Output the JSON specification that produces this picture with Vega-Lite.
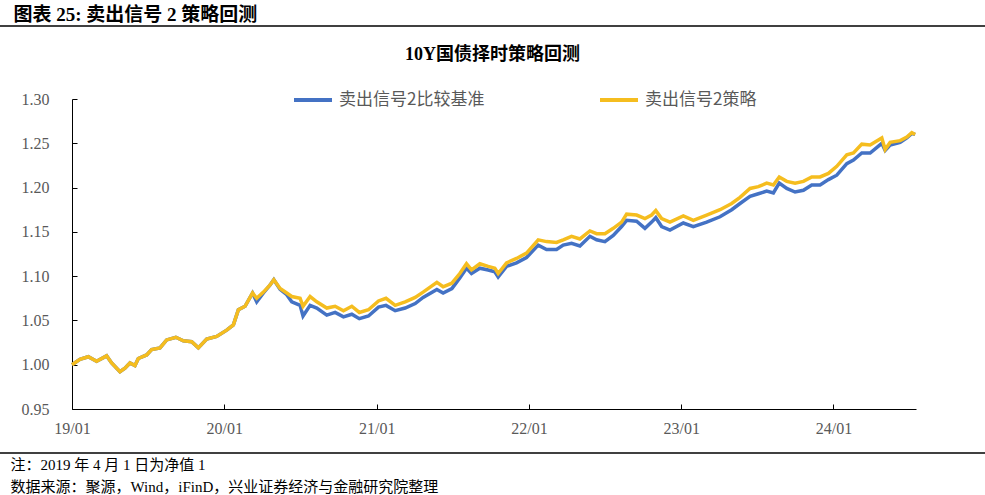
{
  "$schema": "https://vega.github.io/schema/vega-lite/v6.json",
  "width": 844,
  "height": 310,
  "autosize": {"type": "none"},
  "padding": {"left": 72, "top": 99, "right": 69, "bottom": 86},
  "background": "white",
  "config": {"view": {"stroke": null}, "font": "Liberation Serif, Noto Sans CJK SC"},
  "data": {"values": [
    {"date": "2019-01-01", "卖出信号2比较基准": 1.000, "卖出信号2策略": 1.000},
    {"date": "2019-01-20", "卖出信号2比较基准": 1.006, "卖出信号2策略": 1.006},
    {"date": "2019-02-09", "卖出信号2比较基准": 1.009, "卖出信号2策略": 1.009},
    {"date": "2019-03-01", "卖出信号2比较基准": 1.004, "卖出信号2策略": 1.004},
    {"date": "2019-03-25", "卖出信号2比较基准": 1.010, "卖出信号2策略": 1.010},
    {"date": "2019-04-06", "卖出信号2比较基准": 1.002, "卖出信号2策略": 1.002},
    {"date": "2019-04-26", "卖出信号2比较基准": 0.992, "卖出信号2策略": 0.992},
    {"date": "2019-05-08", "卖出信号2比较基准": 0.996, "卖出信号2策略": 0.996},
    {"date": "2019-05-20", "卖出信号2比较基准": 1.002, "卖出信号2策略": 1.002},
    {"date": "2019-06-01", "卖出信号2比较基准": 0.999, "卖出信号2策略": 0.999},
    {"date": "2019-06-09", "卖出信号2比较基准": 1.007, "卖出信号2策略": 1.007},
    {"date": "2019-06-29", "卖出信号2比较基准": 1.011, "卖出信号2策略": 1.011},
    {"date": "2019-07-11", "卖出信号2比较基准": 1.017, "卖出信号2策略": 1.017},
    {"date": "2019-07-31", "卖出信号2比较基准": 1.019, "卖出信号2策略": 1.019},
    {"date": "2019-08-16", "卖出信号2比较基准": 1.028, "卖出信号2策略": 1.028},
    {"date": "2019-09-07", "卖出信号2比较基准": 1.031, "卖出信号2策略": 1.031},
    {"date": "2019-09-25", "卖出信号2比较基准": 1.027, "卖出信号2策略": 1.027},
    {"date": "2019-10-15", "卖出信号2比较基准": 1.026, "卖出信号2策略": 1.026},
    {"date": "2019-10-31", "卖出信号2比较基准": 1.019, "卖出信号2策略": 1.019},
    {"date": "2019-11-20", "卖出信号2比较基准": 1.029, "卖出信号2策略": 1.029},
    {"date": "2019-12-14", "卖出信号2比较基准": 1.032, "卖出信号2策略": 1.032},
    {"date": "2020-01-07", "卖出信号2比较基准": 1.039, "卖出信号2策略": 1.039},
    {"date": "2020-01-23", "卖出信号2比较基准": 1.045, "卖出信号2策略": 1.045},
    {"date": "2020-02-04", "卖出信号2比较基准": 1.062, "卖出信号2策略": 1.062},
    {"date": "2020-02-20", "卖出信号2比较基准": 1.066, "卖出信号2策略": 1.066},
    {"date": "2020-03-09", "卖出信号2比较基准": 1.081, "卖出信号2策略": 1.081},
    {"date": "2020-03-19", "卖出信号2比较基准": 1.071, "卖出信号2策略": 1.075},
    {"date": "2020-04-04", "卖出信号2比较基准": 1.081, "卖出信号2策略": 1.082},
    {"date": "2020-04-20", "卖出信号2比较基准": 1.090, "卖出信号2策略": 1.090},
    {"date": "2020-04-29", "卖出信号2比较基准": 1.096, "卖出信号2策略": 1.096},
    {"date": "2020-05-14", "卖出信号2比较基准": 1.085, "卖出信号2策略": 1.086},
    {"date": "2020-05-30", "卖出信号2比较基准": 1.079, "卖出信号2策略": 1.081},
    {"date": "2020-06-11", "卖出信号2比较基准": 1.071, "卖出信号2策略": 1.077},
    {"date": "2020-07-01", "卖出信号2比较基准": 1.067, "卖出信号2策略": 1.075},
    {"date": "2020-07-08", "卖出信号2比较基准": 1.055, "卖出信号2策略": 1.066},
    {"date": "2020-07-25", "卖出信号2比较基准": 1.067, "卖出信号2策略": 1.077},
    {"date": "2020-08-10", "卖出信号2比较基准": 1.064, "卖出信号2策略": 1.071},
    {"date": "2020-09-03", "卖出信号2比较基准": 1.056, "卖出信号2策略": 1.064},
    {"date": "2020-09-23", "卖出信号2比较基准": 1.059, "卖出信号2策略": 1.066},
    {"date": "2020-10-13", "卖出信号2比较基准": 1.054, "卖出信号2策略": 1.061},
    {"date": "2020-11-02", "卖出信号2比较基准": 1.057, "卖出信号2策略": 1.066},
    {"date": "2020-11-20", "卖出信号2比较基准": 1.052, "卖出信号2策略": 1.059},
    {"date": "2020-12-12", "卖出信号2比较基准": 1.055, "卖出信号2策略": 1.062},
    {"date": "2021-01-05", "卖出信号2比较基准": 1.065, "卖出信号2策略": 1.072},
    {"date": "2021-01-23", "卖出信号2比较基准": 1.067, "卖出信号2策略": 1.075},
    {"date": "2021-02-14", "卖出信号2比较基准": 1.061, "卖出信号2策略": 1.067},
    {"date": "2021-03-10", "卖出信号2比较基准": 1.064, "卖出信号2策略": 1.071},
    {"date": "2021-04-03", "卖出信号2比较基准": 1.069, "卖出信号2策略": 1.076},
    {"date": "2021-04-22", "卖出信号2比较基准": 1.076, "卖出信号2策略": 1.082},
    {"date": "2021-05-25", "卖出信号2比较基准": 1.085, "卖出信号2策略": 1.093},
    {"date": "2021-06-09", "卖出信号2比较基准": 1.081, "卖出信号2策略": 1.088},
    {"date": "2021-06-30", "卖出信号2比较基准": 1.086, "卖出信号2策略": 1.092},
    {"date": "2021-07-19", "卖出信号2比较基准": 1.098, "卖出信号2策略": 1.103},
    {"date": "2021-08-04", "卖出信号2比较基准": 1.109, "卖出信号2策略": 1.114},
    {"date": "2021-08-16", "卖出信号2比较基准": 1.103, "卖出信号2策略": 1.107},
    {"date": "2021-09-05", "卖出信号2比较基准": 1.109, "卖出信号2策略": 1.114},
    {"date": "2021-09-25", "卖出信号2比较基准": 1.107, "卖出信号2策略": 1.111},
    {"date": "2021-10-11", "卖出信号2比较基准": 1.105, "卖出信号2策略": 1.109},
    {"date": "2021-10-19", "卖出信号2比较基准": 1.099, "卖出信号2策略": 1.103},
    {"date": "2021-11-08", "卖出信号2比较基准": 1.111, "卖出信号2策略": 1.115},
    {"date": "2021-12-02", "卖出信号2比较基准": 1.115, "卖出信号2策略": 1.120},
    {"date": "2021-12-26", "卖出信号2比较基准": 1.121, "卖出信号2策略": 1.126},
    {"date": "2022-01-23", "卖出信号2比较基准": 1.135, "卖出信号2策略": 1.141},
    {"date": "2022-02-12", "卖出信号2比较基准": 1.130, "卖出信号2策略": 1.139},
    {"date": "2022-03-08", "卖出信号2比较基准": 1.130, "卖出信号2策略": 1.138},
    {"date": "2022-03-24", "卖出信号2比较基准": 1.135, "卖出信号2策略": 1.141},
    {"date": "2022-04-13", "卖出信号2比较基准": 1.137, "卖出信号2策略": 1.145},
    {"date": "2022-05-03", "卖出信号2比较基准": 1.134, "卖出信号2策略": 1.142},
    {"date": "2022-05-27", "卖出信号2比较基准": 1.145, "卖出信号2策略": 1.151},
    {"date": "2022-06-12", "卖出信号2比较基准": 1.141, "卖出信号2策略": 1.148},
    {"date": "2022-07-02", "卖出信号2比较基准": 1.139, "卖出信号2策略": 1.148},
    {"date": "2022-07-22", "卖出信号2比较基准": 1.146, "卖出信号2策略": 1.154},
    {"date": "2022-08-11", "卖出信号2比较基准": 1.156, "卖出信号2策略": 1.161},
    {"date": "2022-08-23", "卖出信号2比较基准": 1.163, "卖出信号2策略": 1.170},
    {"date": "2022-09-16", "卖出信号2比较基准": 1.162, "卖出信号2策略": 1.169},
    {"date": "2022-10-06", "卖出信号2比较基准": 1.154, "卖出信号2策略": 1.165},
    {"date": "2022-10-22", "卖出信号2比较基准": 1.161, "卖出信号2策略": 1.169},
    {"date": "2022-11-01", "卖出信号2比较基准": 1.166, "卖出信号2策略": 1.174},
    {"date": "2022-11-15", "卖出信号2比较基准": 1.156, "卖出信号2策略": 1.165},
    {"date": "2022-12-05", "卖出信号2比较基准": 1.152, "卖出信号2策略": 1.161},
    {"date": "2023-01-06", "卖出信号2比较基准": 1.160, "卖出信号2策略": 1.168},
    {"date": "2023-01-30", "卖出信号2比较基准": 1.156, "卖出信号2策略": 1.163},
    {"date": "2023-03-03", "卖出信号2比较基准": 1.161, "卖出信号2策略": 1.169},
    {"date": "2023-04-04", "卖出信号2比较基准": 1.167, "卖出信号2策略": 1.175},
    {"date": "2023-05-02", "卖出信号2比较基准": 1.175, "卖出信号2策略": 1.182},
    {"date": "2023-05-22", "卖出信号2比较基准": 1.182, "卖出信号2策略": 1.189},
    {"date": "2023-06-15", "卖出信号2比较基准": 1.190, "卖出信号2策略": 1.199},
    {"date": "2023-07-05", "卖出信号2比较基准": 1.193, "卖出信号2策略": 1.201},
    {"date": "2023-07-25", "卖出信号2比较基准": 1.196, "卖出信号2策略": 1.205},
    {"date": "2023-08-10", "卖出信号2比较基准": 1.194, "卖出信号2策略": 1.203},
    {"date": "2023-08-24", "卖出信号2比较基准": 1.205, "卖出信号2策略": 1.212},
    {"date": "2023-09-11", "卖出信号2比较基准": 1.199, "卖出信号2策略": 1.207},
    {"date": "2023-10-01", "卖出信号2比较基准": 1.195, "卖出信号2策略": 1.205},
    {"date": "2023-10-21", "卖出信号2比较基准": 1.197, "卖出信号2策略": 1.207},
    {"date": "2023-11-10", "卖出信号2比较基准": 1.203, "卖出信号2策略": 1.212},
    {"date": "2023-11-30", "卖出信号2比较基准": 1.203, "卖出信号2策略": 1.212},
    {"date": "2023-12-20", "卖出信号2比较基准": 1.209, "卖出信号2策略": 1.216},
    {"date": "2024-01-09", "卖出信号2比较基准": 1.214, "卖出信号2策略": 1.224},
    {"date": "2024-02-02", "卖出信号2比较基准": 1.227, "卖出信号2策略": 1.237},
    {"date": "2024-02-18", "卖出信号2比较基准": 1.231, "卖出信号2策略": 1.239},
    {"date": "2024-03-09", "卖出信号2比较基准": 1.239, "卖出信号2策略": 1.249},
    {"date": "2024-03-29", "卖出信号2比较基准": 1.239, "卖出信号2策略": 1.248},
    {"date": "2024-04-26", "卖出信号2比较基准": 1.250, "卖出信号2策略": 1.256},
    {"date": "2024-05-04", "卖出信号2比较基准": 1.242, "卖出信号2策略": 1.243},
    {"date": "2024-05-16", "卖出信号2比较基准": 1.248, "卖出信号2策略": 1.251},
    {"date": "2024-06-09", "卖出信号2比较基准": 1.251, "卖出信号2策略": 1.253},
    {"date": "2024-06-25", "卖出信号2比较基准": 1.256, "卖出信号2策略": 1.257},
    {"date": "2024-07-07", "卖出信号2比较基准": 1.261, "卖出信号2策略": 1.262},
    {"date": "2024-07-15", "卖出信号2比较基准": 1.260, "卖出信号2策略": 1.260}
  ]},
  "layer": [
    {
      "transform": [{"fold": ["卖出信号2比较基准", "卖出信号2策略"], "as": ["series", "value"]}],
      "mark": {"type": "line", "strokeWidth": 3.5},
      "encoding": {
        "x": {
          "field": "date", "type": "temporal",
          "scale": {"type": "utc", "domain": [{"year": 2019, "month": 1, "date": 1, "utc": true}, {"year": 2024, "month": 7, "date": 17, "utc": true}]},
          "axis": {
            "values": [
              {"year": 2019, "month": 1, "date": 1, "utc": true},
              {"year": 2020, "month": 1, "date": 1, "utc": true},
              {"year": 2021, "month": 1, "date": 1, "utc": true},
              {"year": 2022, "month": 1, "date": 1, "utc": true},
              {"year": 2023, "month": 1, "date": 1, "utc": true},
              {"year": 2024, "month": 1, "date": 1, "utc": true}
            ],
            "format": "%y/%m",
            "grid": false,
            "domainColor": "black", "domainWidth": 1,
            "tickColor": "black", "tickSize": -5,
            "labelPadding": 16,
            "labelFont": "Liberation Serif", "labelFontSize": 16, "labelColor": "#595959",
            "labelFlush": false, "labelOverlap": false,
            "title": ["注：2019 年 4 月 1 日为净值 1", "数据来源：聚源，Wind，iFinD，兴业证券经济与金融研究院整理"],
            "titleX": -62, "titleY": 60,
            "titleAlign": "left", "titleAnchor": "start", "titleBaseline": "alphabetic",
            "titleFont": "Liberation Serif, Noto Sans CJK SC", "titleFontSize": 15,
            "titleFontWeight": "normal", "titleColor": "black", "titleLineHeight": 22
          }
        },
        "y": {
          "field": "value", "type": "quantitative",
          "scale": {"domain": [0.95, 1.30], "nice": false, "zero": false},
          "axis": {
            "values": [0.95, 1.0, 1.05, 1.1, 1.15, 1.2, 1.25, 1.3],
            "format": ".2f",
            "grid": false,
            "domainColor": "black", "domainWidth": 1,
            "tickColor": "black", "tickSize": -5,
            "labelPadding": 28,
            "labelFont": "Liberation Serif", "labelFontSize": 16, "labelColor": "#595959",
            "labelFlush": false,
            "title": "图表 25:  卖出信号 2 策略回测",
            "titleAngle": 0, "titleX": -59, "titleY": -79,
            "titleAlign": "left", "titleBaseline": "alphabetic",
            "titleFont": "Liberation Serif, Noto Sans CJK SC", "titleFontSize": 19,
            "titleFontWeight": "bold", "titleColor": "black"
          }
        },
        "color": {
          "field": "series", "type": "nominal",
          "scale": {"domain": ["卖出信号2比较基准", "卖出信号2策略"], "range": ["#4472C4", "#F5BD1F"]},
          "legend": {
            "orient": "none", "legendX": 220, "legendY": -20,
            "direction": "horizontal", "title": null, "padding": 0,
            "symbolType": "stroke", "symbolStrokeWidth": 4, "symbolSize": 1444,
            "labelFont": "Noto Sans CJK SC", "labelFontSize": 17, "labelColor": "#595959",
            "labelOffset": 5, "columnPadding": 107, "labelLimit": 300
          }
        }
      }
    },
    {
      "data": {"values": [{}]},
      "mark": {"type": "rule", "color": "black", "strokeWidth": 1.5},
      "encoding": {
        "x": {"datum": {"year": 2018, "month": 7, "date": 1, "utc": true}, "type": "temporal"},
        "x2": {"datum": {"year": 2025, "month": 1, "date": 15, "utc": true}},
        "y": {
          "datum": 1.3823, "type": "quantitative",
          "axis": {
            "orient": "right", "domain": false, "ticks": false, "labels": false, "grid": false,
            "title": "10Y国债择时策略回测",
            "titleAngle": 0, "titleX": -424, "titleY": -40,
            "titleAlign": "center", "titleBaseline": "alphabetic",
            "titleFont": "Liberation Serif, Noto Sans CJK SC", "titleFontSize": 18,
            "titleFontWeight": "bold", "titleColor": "black"
          }
        }
      }
    },
    {
      "data": {"values": [{}]},
      "mark": {"type": "rule", "color": "black", "strokeWidth": 1.5},
      "encoding": {
        "x": {"datum": {"year": 2018, "month": 7, "date": 1, "utc": true}, "type": "temporal"},
        "x2": {"datum": {"year": 2025, "month": 1, "date": 15, "utc": true}},
        "y": {"datum": 0.9003, "type": "quantitative", "axis": null}
      }
    }
  ],
  "resolve": {"axis": {"y": "independent"}}
}
